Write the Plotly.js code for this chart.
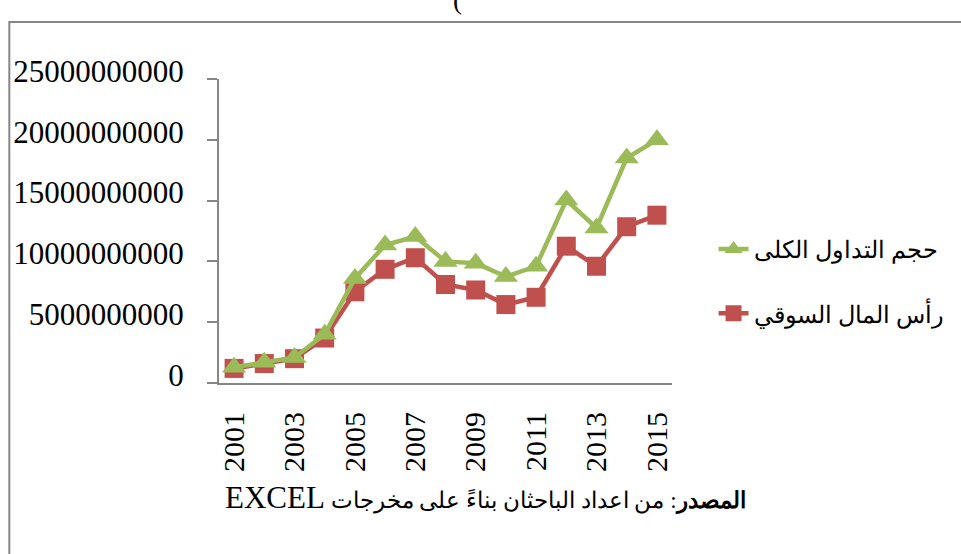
<!DOCTYPE html>
<html>
<head>
<meta charset="utf-8">
<script src="https://cdn.plot.ly/plotly-3.0.1.min.js"></script>
<style>html,body{margin:0;padding:0;background:#fff;}#chart{width:961px;height:554px;}</style>
</head>
<body>
<div id="chart"></div>
<script>
// Data
var years = [2001, 2002, 2003, 2004, 2005, 2006, 2007, 2008, 2009, 2010, 2011, 2012, 2013, 2014, 2015];
var tradingVolume = [1.3e9, 1.7e9, 2.1e9, 4.0e9, 8.6e9, 11.35e9, 12.05e9, 10.0e9, 9.85e9, 8.75e9, 9.6e9, 15.05e9, 12.75e9, 18.5e9, 20.0e9];
var marketCap = [1.2e9, 1.6e9, 2.0e9, 3.7e9, 7.5e9, 9.35e9, 10.3e9, 8.1e9, 7.65e9, 6.45e9, 7.05e9, 11.25e9, 9.6e9, 12.85e9, 13.8e9];
var seriesNames = ['حجم التداول الكلى', 'رأس المال السوقي'];
var xTickVals = [2001, 2003, 2005, 2007, 2009, 2011, 2013, 2015];
var yTickVals = [0, 5000000000, 10000000000, 15000000000, 20000000000, 25000000000];

var serif = '"Liberation Serif", "Times New Roman", "DejaVu Serif", serif';

var traces = [
  {
    x: years, y: marketCap, name: seriesNames[1], type: 'scatter', mode: 'lines+markers',
    line: {color: '#C0504D', width: 4.5},
    marker: {symbol: 'square', size: 19, color: '#C0504D', line: {width: 0}},
    legendgroup: 'b', legendrank: 2
  },
  {
    x: years, y: tradingVolume, name: seriesNames[0], type: 'scatter', mode: 'lines+markers',
    line: {color: '#9BBB59', width: 4.5},
    marker: {symbol: 'triangle-up', size: 21, color: '#9BBB59', line: {width: 0}},
    legendgroup: 'a', legendrank: 1
  }
];

var L = 219, R = 677, T = 79, B = 383;
var W = R - L, H = B - T;
function px2x(p) { return (p - L) / W; }
function px2y(p) { return (B - p) / H; }

var layout = {
  width: 961, height: 554,
  margin: {l: L, r: 961 - R, t: T, b: 554 - B},
  paper_bgcolor: '#ffffff', plot_bgcolor: '#ffffff',
  font: {family: serif, color: '#000000'},
  showlegend: true,
  legend: {
    x: px2x(719), y: px2y(227), xanchor: 'left', yanchor: 'top',
    font: {size: 24, family: serif, color: '#000000'},
    tracegroupgap: 30, bgcolor: 'rgba(0,0,0,0)', itemwidth: 30
  },
  xaxis: {
    range: [2000.5, 2015.5], tickmode: 'array', tickvals: xTickVals,
    ticktext: xTickVals.map(String), tickangle: -90,
    showline: true, linecolor: '#868686', linewidth: 2,
    showgrid: false, zeroline: false, ticks: '',
    tickfont: {size: 30, family: serif, color: '#000000'},
    ticklabelstandoff: 15
  },
  yaxis: {
    range: [0, 25000000000], tickmode: 'array', tickvals: yTickVals,
    ticktext: yTickVals.map(function (v) { return String(v); }),
    showline: true, linecolor: '#868686', linewidth: 2,
    showgrid: false, zeroline: false,
    ticks: 'outside', ticklen: 10, tickwidth: 2, tickcolor: '#868686',
    tickfont: {size: 31, family: serif, color: '#000000'},
    ticklabelstandoff: 17, ticklabelshift: -8
  },
  shapes: [
    {type: 'rect', xref: 'paper', yref: 'paper', layer: 'below',
     x0: px2x(7), x1: px2x(1000), y0: px2y(22), y1: px2y(620),
     line: {color: '#868686', width: 2}, fillcolor: 'rgba(0,0,0,0)'}
  ],
  annotations: [
    {xref: 'paper', yref: 'paper', x: px2x(488), y: px2y(497), xanchor: 'center', yanchor: 'middle',
     showarrow: false, font: {size: 23, family: serif, color: '#000000'},
     text: '<span style="font-size:31px">EXCEL</span> <b>المصدر</b>: من اعداد الباحثان بناءً على مخرجات'},
    {xref: 'paper', yref: 'paper', x: px2x(460), y: px2y(17), xanchor: 'center', yanchor: 'bottom',
     showarrow: false, font: {size: 27, family: serif, color: '#000000'},
     text: '('}
  ]
};

Plotly.newPlot('chart', traces, layout, {displayModeBar: false, staticPlot: true});
</script>
</body>
</html>
